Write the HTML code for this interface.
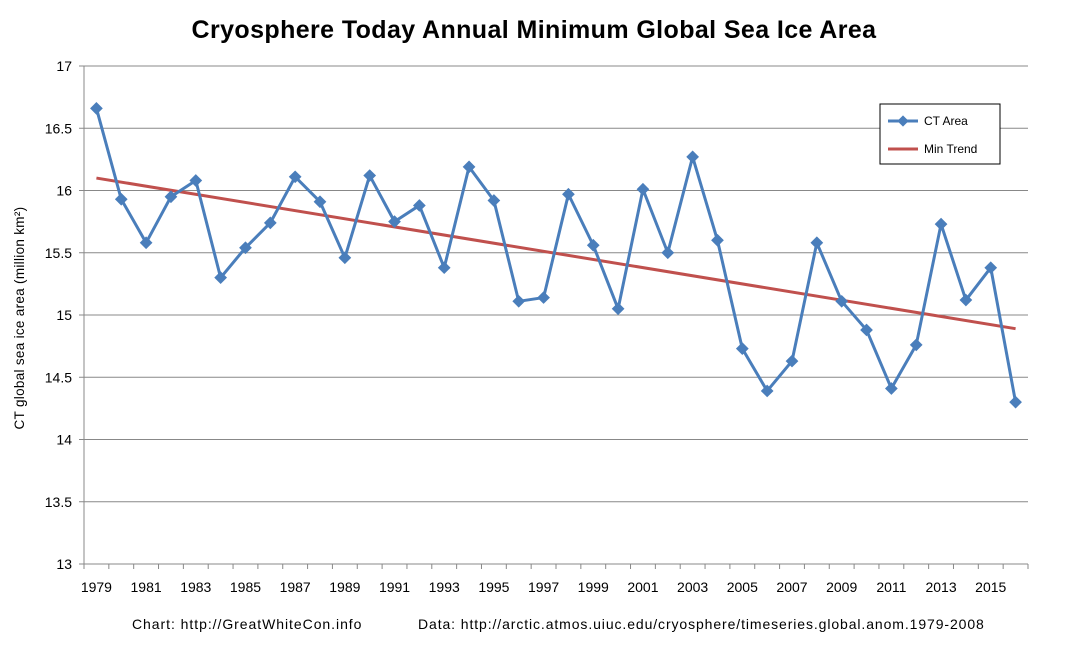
<!DOCTYPE html>
<html><head><meta charset="utf-8"><style>
body{margin:0;background:#fff;width:1067px;height:645px;overflow:hidden;font-family:"Liberation Sans",sans-serif}
</style></head><body>
<svg id="chart" width="1067" height="645" xmlns="http://www.w3.org/2000/svg" font-family="Liberation Sans, sans-serif">
<text x="534" y="38" text-anchor="middle" font-size="25" font-weight="bold" letter-spacing="0.4">Cryosphere Today Annual Minimum Global Sea Ice Area</text>
<text transform="translate(24,318) rotate(-90)" text-anchor="middle" font-size="13.5" letter-spacing="0.3">CT global sea ice area (million km²)</text>
<g id="grid"></g><g id="axes"></g><g id="series"></g>
<g>
<rect x="880" y="104" width="120" height="60" fill="#fff" stroke="#000" stroke-width="1"/>
<line x1="888" y1="121" x2="918" y2="121" stroke="#4a7ebb" stroke-width="3"/>
<rect x="899" y="117" width="8" height="8" fill="#4a7ebb" transform="rotate(45 903 121)"/>
<text x="924" y="125" font-size="12">CT Area</text>
<line x1="888" y1="149" x2="918" y2="149" stroke="#c0504d" stroke-width="3"/>
<text x="924" y="153" font-size="12">Min Trend</text>
</g>
<text x="132" y="629" font-size="14" letter-spacing="0.95">Chart: http://GreatWhiteCon.info</text>
<text x="418" y="629" font-size="14" letter-spacing="0.9">Data: http://arctic.atmos.uiuc.edu/cryosphere/timeseries.global.anom.1979-2008</text>
</svg>
<script>
const years=[1979,1980,1981,1982,1983,1984,1985,1986,1987,1988,1989,1990,1991,1992,1993,1994,1995,1996,1997,1998,1999,2000,2001,2002,2003,2004,2005,2006,2007,2008,2009,2010,2011,2012,2013,2014,2015,2016];
const area=[16.66,15.93,15.58,15.95,16.08,15.30,15.54,15.74,16.11,15.91,15.46,16.12,15.75,15.88,15.38,16.19,15.92,15.11,15.14,15.97,15.56,15.05,16.01,15.50,16.27,15.60,14.73,14.39,14.63,15.58,15.11,14.88,14.41,14.76,15.73,15.12,15.38,14.30];
const trendEnds=[16.10,14.89];
const yTicks=[13,13.5,14,14.5,15,15.5,16,16.5,17];
const xLabels=[1979,1981,1983,1985,1987,1989,1991,1993,1995,1997,1999,2001,2003,2005,2007,2009,2011,2013,2015];
const NS='http://www.w3.org/2000/svg';
const L=84,R=1028,T=66,B=564;
const step=(R-L)/years.length;
const xs=y=>L+step*(y-1979+0.5);
const ys=v=>B-(v-13)/4*(B-T);
function mk(t,a,p){const e=document.createElementNS(NS,t);for(const k in a)e.setAttribute(k,a[k]);p.appendChild(e);return e;}
const grid=document.getElementById('grid'),axes=document.getElementById('axes'),ser=document.getElementById('series');
yTicks.forEach(v=>{
 const g=mk('line',{x1:L,x2:R,y1:ys(v),y2:ys(v),stroke:'#888','stroke-width':1},grid);
 
 
 const t=mk('text',{x:L-12,y:ys(v)+5,'text-anchor':'end','font-size':14},axes);
 t.textContent=v;
 
 
 mk('line',{x1:L-5,x2:L,y1:ys(v),y2:ys(v),stroke:'#888'},axes);
});
const ya=mk('line',{x1:L,x2:L,y1:T,y2:B,stroke:'#888'},axes);


for(let i=0;i<=years.length;i++){mk('line',{x1:L+step*i,x2:L+step*i,y1:B,y2:B+5,stroke:'#888'},axes);}
xLabels.forEach(y=>{
 const t=mk('text',{x:xs(y),y:B+28,'text-anchor':'middle','font-size':14},axes);
 t.textContent=y;
 
 
});
const tr=mk('line',{x1:xs(years[0]),y1:ys(trendEnds[0]),x2:xs(years[years.length-1]),y2:ys(trendEnds[1]),stroke:'#c0504d','stroke-width':3},ser);


const pl=mk('polyline',{points:years.map((y,i)=>xs(y)+','+ys(area[i])).join(' '),fill:'none',stroke:'#4a7ebb','stroke-width':3,'stroke-linejoin':'round'},ser);


years.forEach((y,i)=>{
 const x=xs(y),yy=ys(area[i]);
 const m=mk('rect',{x:x-4.5,y:yy-4.5,width:9,height:9,fill:'#4a7ebb',transform:`rotate(45 ${x} ${yy})`},ser);
 
 
});
</script>
</body></html>
